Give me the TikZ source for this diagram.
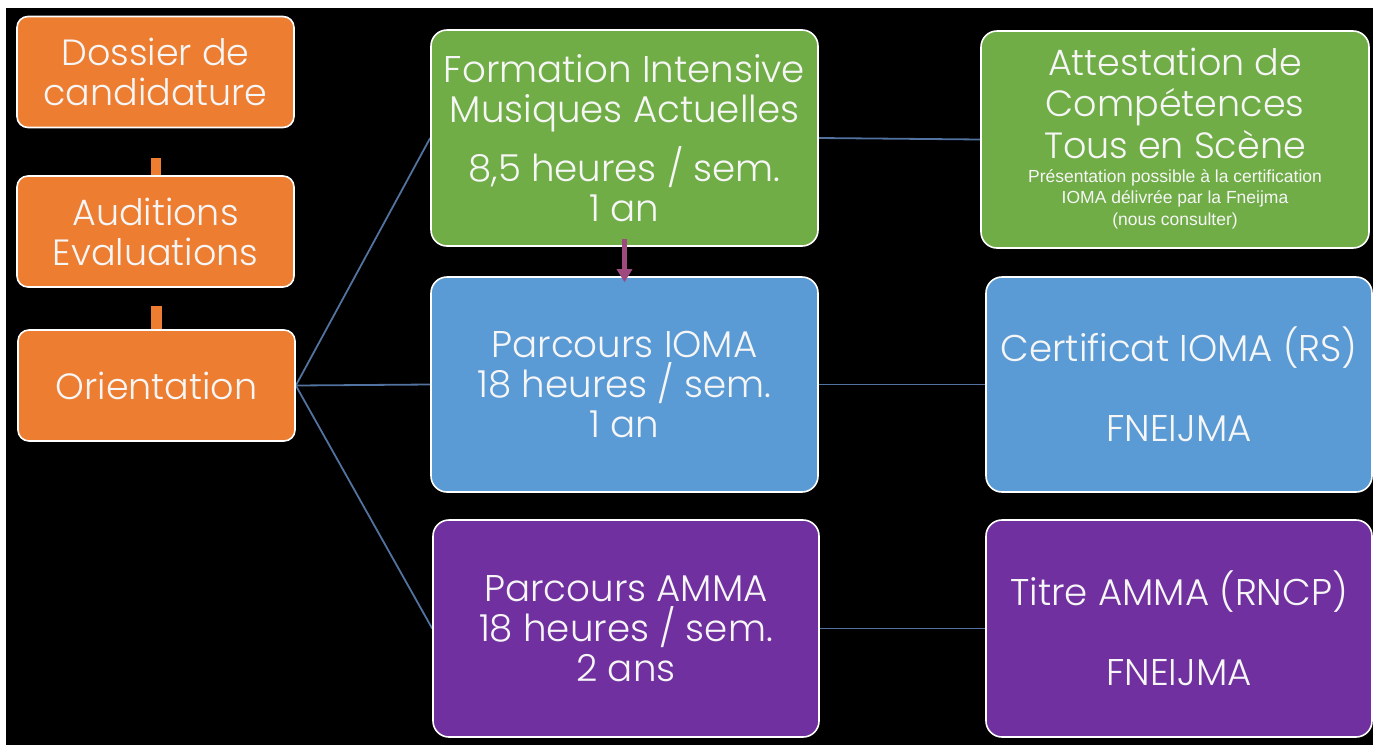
\documentclass[tikz,border=0pt]{standalone}
\usepackage{fontspec}
\setmainfont{Poppins}[UprightFont=* Light]
\newfontfamily\arialf{Liberation Sans}
\usetikzlibrary{arrows.meta}
\definecolor{borange}{HTML}{ED7D31}
\definecolor{bgreen}{HTML}{70AD47}
\definecolor{bblue}{HTML}{5B9BD5}
\definecolor{bpurple}{HTML}{7030A0}
\definecolor{linkc}{HTML}{5272A0}
\definecolor{arrowc}{HTML}{9E4A7E}
\definecolor{txt}{HTML}{F6F6F6}
\pgfdeclarelayer{back}
\pgfdeclarelayer{bg}
\pgfsetlayers{back,bg,main}
\newcommand{\orgfont}{\fontsize{36.5}{40}\selectfont}
\newcommand{\boxfont}{\fontsize{37.2}{40}\selectfont}
\newcommand{\smallf}{\arialf\fontsize{17.5}{21.5}\selectfont}
\tikzset{
  box/.style={draw=white, line width=1.6pt, rounded corners=16pt, text=txt, align=center, font=\boxfont, inner sep=0pt},
  obox/.style={box, font=\orgfont, fill=borange, rounded corners=11pt, minimum width=277pt, minimum height=111pt},
  gbox/.style={box, fill=bgreen, minimum width=387pt, minimum height=216pt},
  bbox/.style={box, fill=bblue, minimum width=387pt, minimum height=215pt},
  pbox/.style={box, fill=bpurple, minimum width=386pt, minimum height=217pt},
  link/.style={draw=linkc, line width=1.8pt},
  txtnode/.style={text=txt, align=center, inner sep=0pt}
}
\begin{document}
\begin{tikzpicture}[x=1pt,y=-1pt]
\useasboundingbox (0,0) rectangle (1373,745);
\begin{pgfonlayer}{back}
\fill[white] (0,0) rectangle (1373,745);
\fill[black] (6,8) rectangle (1373,745);
\end{pgfonlayer}

\node[obox] (dossier) at (155.5,72) {Dossier de\\candidature};
\node[obox] (auditions) at (155.5,231.5) {Auditions\\Evaluations};
\node[obox] (orientation) at (156.5,385.5) {Orientation};

\node[gbox] (formation) at (624.5,138) {Formation Intensive\\Musiques Actuelles\\[13pt]8,5 heures / sem.\\1 an};
\node[bbox] (ioma) at (624.5,384.5) {Parcours IOMA\\18 heures / sem.\\1 an};
\node[pbox] (amma) at (626,628.5) {Parcours AMMA\\18 heures / sem.\\2 ans};

\node[gbox, minimum width=388pt, minimum height=217pt] (attest) at (1175,139.5) {};
\node[txtnode, font=\fontsize{36.5}{41.5}\selectfont] (attestbig) at (1175,103) {Attestation de\\Compétences\\Tous en Scène};
\node[txtnode, font=\smallf] (attestsmall) at (1175,199) {Présentation possible à la certification\\IOMA délivrée par la Fneijma\\(nous consulter)};

\node[bbox, minimum width=386pt] (certif) at (1179,384.5) {Certificat IOMA (RS)\\[40pt]FNEIJMA};
\node[pbox] (titre) at (1179,628.5) {Titre AMMA (RNCP)\\[40pt]FNEIJMA};

\begin{pgfonlayer}{bg}
\draw[link] (orientation.east) -- (formation.west);
\draw[link] (orientation.east) -- (ioma.west);
\draw[link] (orientation.east) -- (amma.west);
\draw[link] (formation.east) -- (attest.west);
\draw[link] (ioma.east) -- (certif.west);
\draw[link] (amma.east) -- (titre.west);
\end{pgfonlayer}

\fill[borange] ([xshift=-5pt,yshift=-30pt]dossier.south) rectangle ([xshift=5pt]auditions.north);
\fill[borange] ([xshift=-5pt,yshift=-18pt]auditions.south) rectangle ([xshift=5pt]orientation.north);
\draw[arrowc, line width=4.5pt, -{Triangle[width=15pt,length=13pt]}] ([yshift=8pt]formation.south) -- ([yshift=-6pt]ioma.north);
\end{tikzpicture}
\end{document}
